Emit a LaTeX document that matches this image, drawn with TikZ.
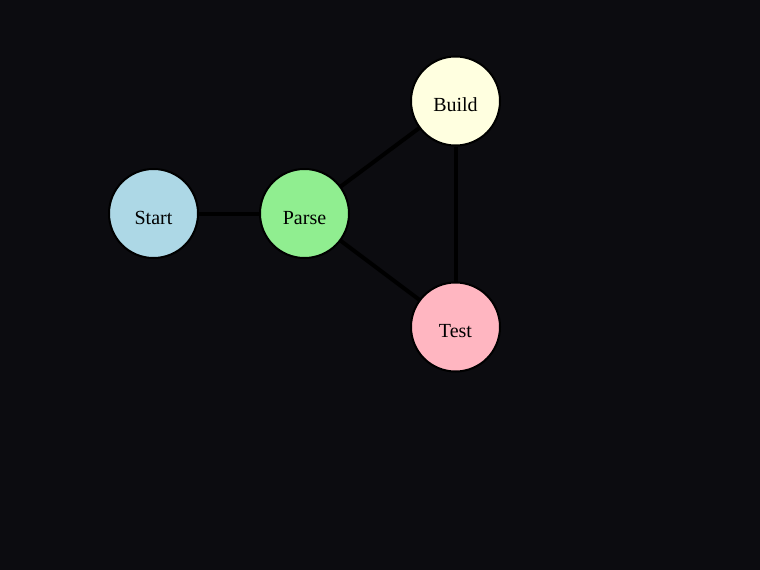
\documentclass[tikz,border=0pt]{standalone}
\usepackage{fontspec}
\setmainfont{Liberation Serif}
\definecolor{bg}{HTML}{0C0C10}
\definecolor{cstart}{HTML}{ADD8E6}
\definecolor{cparse}{HTML}{90EE90}
\definecolor{cbuild}{HTML}{FFFFE0}
\definecolor{ctest}{HTML}{FFB6C1}
\begin{document}
\begin{tikzpicture}[x=1pt,y=-1pt,
  vertex/.style={circle,draw=black,line width=2pt,minimum size=89pt,inner sep=0pt,
    text height=21pt,text depth=0pt,font=\fontsize{20}{24}\selectfont,text=black},
  edge/.style={draw=black,line width=4pt}]
\fill[bg] (0,0) rectangle (760,570);
\useasboundingbox (0,0) rectangle (760,570);
\node[vertex,fill=cstart] (start) at (153.5,213.5) {Start};
\node[vertex,fill=cparse] (parse) at (304.5,213.5) {Parse};
\node[vertex,fill=cbuild] (build) at (455.5,101) {Build};
\node[vertex,fill=ctest] (test) at (455.5,327) {Test};
\draw[edge] (start) -- (parse);
\draw[edge] (parse) -- (build);
\draw[edge] (parse) -- (test);
\draw[edge] (build) -- (test);
\end{tikzpicture}
\end{document}
